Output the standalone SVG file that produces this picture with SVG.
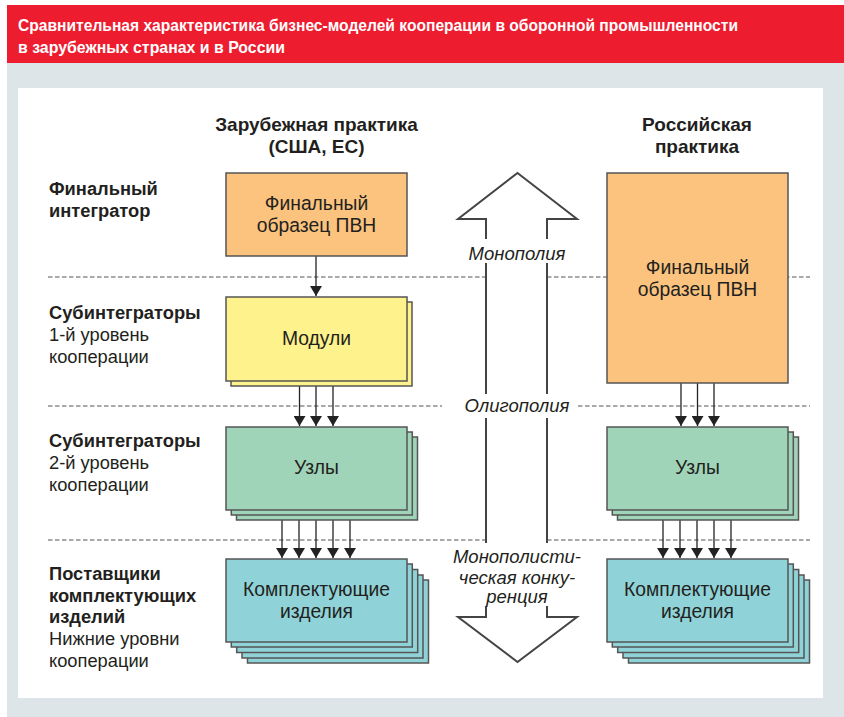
<svg xmlns="http://www.w3.org/2000/svg" width="844" height="717" viewBox="0 0 844 717">
<defs>
<style>
.t{font-family:"Liberation Sans",Arial,sans-serif;fill:#231f20}
.b{font-weight:bold}
.lbl{font-size:18.3px}
.box{font-size:19.3px;text-anchor:middle}
.hdr{font-size:19px;font-weight:bold;text-anchor:middle}
.it{font-size:18.5px;font-style:italic;text-anchor:middle}
.title{font-family:"Liberation Sans Narrow","Liberation Sans",Arial,sans-serif;font-weight:bold;font-size:17px;fill:#fff}
.dash{stroke:#555;stroke-width:1.2;stroke-dasharray:4.5 2.5;fill:none}
.n rect{stroke:#555;stroke-width:1.5}
.or{fill:#fbc37e}.ye{fill:#fdf28b}.gr{fill:#9fd4b8}.te{fill:#8fd3d8}
.ar{stroke:#222;stroke-width:1.3;fill:none;marker-end:url(#ah)}
</style>
<marker id="ah" viewBox="0 0 10 12" refX="10" refY="6" markerWidth="10" markerHeight="12" markerUnits="userSpaceOnUse" orient="auto">
<path d="M0,0 L10,6 L0,12 Z" fill="#222"/>
</marker>
</defs>
<rect x="0" y="0" width="844" height="717" fill="#fff"/>
<rect x="7" y="63" width="837" height="654" fill="#dde5e8"/>
<rect x="7" y="5" width="837" height="58" fill="#ed1c2e"/>
<text class="title" x="18" y="31" textLength="720" lengthAdjust="spacingAndGlyphs">Сравнительная характеристика бизнес-моделей кооперации в оборонной промышленности</text>
<text class="title" x="18" y="52.5" textLength="267" lengthAdjust="spacingAndGlyphs">в зарубежных странах и в России</text>
<rect x="18" y="88" width="805" height="610" fill="#fff"/>

<g id="headers">
<text class="t hdr" x="316.5" y="131">Зарубежная практика</text>
<text class="t hdr" x="316.5" y="153">(США, ЕС)</text>
<text class="t hdr" x="697" y="131">Российская</text>
<text class="t hdr" x="697" y="153">практика</text>
</g>

<g id="levels">
<text class="t lbl b" x="49" y="195">Финальный</text>
<text class="t lbl b" x="49" y="217">интегратор</text>
<text class="t lbl b" x="49" y="319">Субинтеграторы</text>
<text class="t lbl" x="49" y="341">1-й уровень</text>
<text class="t lbl" x="49" y="363">кооперации</text>
<text class="t lbl b" x="49" y="447">Субинтеграторы</text>
<text class="t lbl" x="49" y="469">2-й уровень</text>
<text class="t lbl" x="49" y="491">кооперации</text>
<text class="t lbl b" x="49" y="580">Поставщики</text>
<text class="t lbl b" x="49" y="602">комплектующих</text>
<text class="t lbl b" x="49" y="623">изделий</text>
<text class="t lbl" x="49" y="645">Нижние уровни</text>
<text class="t lbl" x="49" y="667">кооперации</text>
</g>

<g id="dividers">
<path class="dash" d="M48,277 H486 M547,277 H810"/>
<path class="dash" d="M48,406 H442 M578,406 H810"/>
<path class="dash" d="M48,540 H486 M547,540 H810"/>
</g>

<g id="market-arrow">
<polygon points="517.5,173 577,219 547,219 547,617 577,617 517.5,662 458,617 486,617 486,219 458,219" fill="#fff" stroke="#444" stroke-width="2" stroke-linejoin="miter"/>
<rect x="482" y="239" width="70" height="24" fill="#fff"/>
<rect x="482" y="394" width="70" height="24" fill="#fff"/>
<rect x="482" y="543" width="70" height="63" fill="#fff"/>
<text class="t it" x="517" y="260">Монополия</text>
<text class="t it" x="517" y="412">Олигополия</text>
<text class="t it" x="517" y="563">Монополисти-</text>
<text class="t it" x="517" y="584">ческая конку-</text>
<text class="t it" x="517" y="603">ренция</text>
</g>

<g id="connectors">
<line class="ar" x1="316" y1="256" x2="316" y2="296"/>
<line class="ar" x1="299.5" y1="386" x2="299.5" y2="426"/>
<line class="ar" x1="316" y1="386" x2="316" y2="426"/>
<line class="ar" x1="333" y1="386" x2="333" y2="426"/>
<line class="ar" x1="282" y1="520" x2="282" y2="558"/>
<line class="ar" x1="299" y1="520" x2="299" y2="558"/>
<line class="ar" x1="316" y1="520" x2="316" y2="558"/>
<line class="ar" x1="333" y1="520" x2="333" y2="558"/>
<line class="ar" x1="350" y1="520" x2="350" y2="558"/>
<line class="ar" x1="681" y1="383" x2="681" y2="426"/>
<line class="ar" x1="697.5" y1="383" x2="697.5" y2="426"/>
<line class="ar" x1="714" y1="383" x2="714" y2="426"/>
<line class="ar" x1="663" y1="520" x2="663" y2="558"/>
<line class="ar" x1="680" y1="520" x2="680" y2="558"/>
<line class="ar" x1="697" y1="520" x2="697" y2="558"/>
<line class="ar" x1="714" y1="520" x2="714" y2="558"/>
<line class="ar" x1="731" y1="520" x2="731" y2="558"/>
</g>

<g id="left-final" class="n">
<rect class="or" x="226" y="173" width="181" height="83"/>
<text class="t box" x="316.5" y="210">Финальный</text>
<text class="t box" x="316.5" y="232">образец ПВН</text>
</g>
<g id="left-modules" class="n">
<rect class="ye" x="231" y="302" width="181" height="84"/>
<rect class="ye" x="226" y="297" width="181" height="84"/>
<text class="t box" x="316.5" y="345">Модули</text>
</g>
<g id="left-nodes" class="n">
<rect class="gr" x="236.5" y="437" width="181" height="83"/>
<rect class="gr" x="231.3" y="432" width="181" height="83"/>
<rect class="gr" x="226" y="427" width="181" height="83"/>
<text class="t box" x="316.5" y="474">Узлы</text>
</g>
<g id="left-components" class="n">
<rect class="te" x="247.5" y="580" width="181" height="83"/>
<rect class="te" x="242" y="575" width="181" height="83"/>
<rect class="te" x="236.7" y="569.5" width="181" height="83"/>
<rect class="te" x="231.3" y="564" width="181" height="83"/>
<rect class="te" x="226" y="559" width="181" height="83"/>
<text class="t box" x="316.5" y="596">Комплектующие</text>
<text class="t box" x="316.5" y="618">изделия</text>
</g>

<g id="right-final" class="n">
<rect class="or" x="607" y="173" width="181" height="210"/>
<text class="t box" x="697.5" y="274">Финальный</text>
<text class="t box" x="697.5" y="296">образец ПВН</text>
</g>
<g id="right-nodes" class="n">
<rect class="gr" x="617.5" y="437" width="181" height="83"/>
<rect class="gr" x="612.3" y="432" width="181" height="83"/>
<rect class="gr" x="607" y="427" width="181" height="83"/>
<text class="t box" x="697.5" y="474">Узлы</text>
</g>
<g id="right-components" class="n">
<rect class="te" x="628.5" y="580" width="181" height="83"/>
<rect class="te" x="623" y="575" width="181" height="83"/>
<rect class="te" x="617.7" y="569.5" width="181" height="83"/>
<rect class="te" x="612.3" y="564" width="181" height="83"/>
<rect class="te" x="607" y="559" width="181" height="83"/>
<text class="t box" x="697.5" y="596">Комплектующие</text>
<text class="t box" x="697.5" y="618">изделия</text>
</g>
</svg>
